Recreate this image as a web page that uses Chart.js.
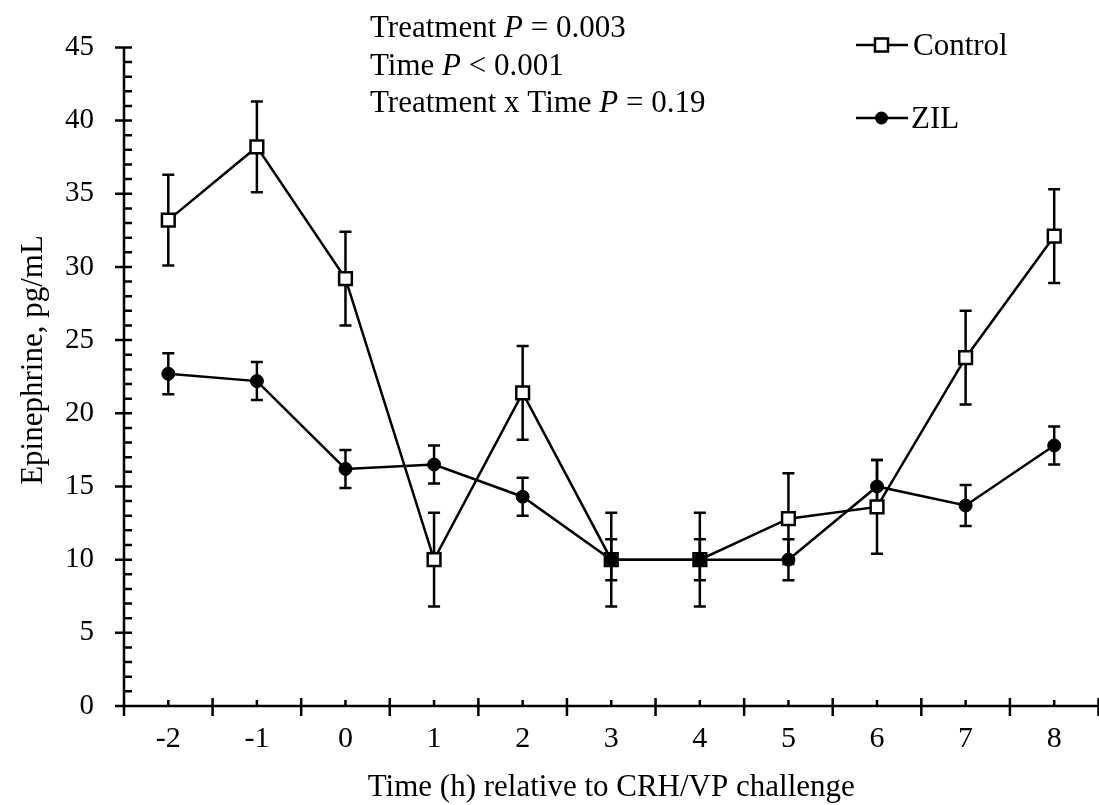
<!DOCTYPE html>
<html>
<head>
<meta charset="utf-8">
<script src="https://cdn.jsdelivr.net/npm/chart.js@4.4.1/dist/chart.umd.min.js"></script>
<style>
  html, body { margin: 0; padding: 0; background: #fff; overflow: hidden; }
  #wrap { width: 1110px; height: 805px; }
</style>
</head>
<body>
<div id="wrap"><canvas id="chart" width="1110" height="805"></canvas></div>
<script>
// values (pg/mL, mean and SEM)
const times = ['-2', '-1', '0', '1', '2', '3', '4', '5', '6', '7', '8'];
const controlMean = [33.2, 38.2, 29.2, 10.0, 21.4, 10.0, 10.0, 12.8, 13.6, 23.8, 32.1];
const controlSem = [3.1, 3.1, 3.2, 3.2, 3.2, 3.2, 3.2, 3.1, 3.2, 3.2, 3.2];
const zilMean = [22.7, 22.2, 16.2, 16.5, 14.3, 10.0, 10.0, 10.0, 15.0, 13.7, 17.8];
const zilSem = [1.4, 1.3, 1.3, 1.3, 1.3, 1.4, 1.4, 1.4, 1.8, 1.4, 1.3];
const yMin = 0, yMax = 45, yStep = 5, yMinorStep = 1;
const statLines = [
  ['Treatment ', 'P', ' = 0.003'],
  ['Time ', 'P', ' < 0.001'],
  ['Treatment x Time ', 'P', ' = 0.19']
];
const xTitle = 'Time (h) relative to CRH/VP challenge';
const yTitle = 'Epinephrine, pg/mL';

const FONT = "'Liberation Serif', 'Times New Roman', serif";

const decorations = {
  id: 'decorations',
  beforeDatasetsDraw(chart) {
    // error bars go behind the markers
    const ctx = chart.ctx;
    const x = chart.scales.x, y = chart.scales.y;
    const sets = [[controlMean, controlSem], [zilMean, zilSem]];
    ctx.save();
    ctx.strokeStyle = '#000';
    ctx.lineWidth = 2.5;
    sets.forEach(([m, s]) => {
      m.forEach((v, i) => {
        const px = x.getPixelForValue(i);
        const top = y.getPixelForValue(v + s[i]);
        const bot = y.getPixelForValue(v - s[i]);
        ctx.beginPath();
        ctx.moveTo(px, top); ctx.lineTo(px, bot);
        ctx.moveTo(px - 6, top); ctx.lineTo(px + 6, top);
        ctx.moveTo(px - 6, bot); ctx.lineTo(px + 6, bot);
        ctx.stroke();
      });
    });
    ctx.restore();
  },
  afterDraw(chart) {
    const ctx = chart.ctx;
    const area = chart.chartArea;
    const x = chart.scales.x, y = chart.scales.y;
    ctx.save();
    ctx.strokeStyle = '#000';
    ctx.fillStyle = '#000';
    ctx.lineWidth = 2.5;

    // axes
    ctx.beginPath();
    ctx.moveTo(area.left, area.top); ctx.lineTo(area.left, area.bottom);
    ctx.moveTo(area.left, area.bottom); ctx.lineTo(area.right, area.bottom);
    // y ticks
    for (let v = yMin; v <= yMax; v += yMinorStep) {
      const py = y.getPixelForValue(v);
      if (v % yStep === 0) {
        ctx.moveTo(area.left - 9, py); ctx.lineTo(area.left + 8, py);
      } else {
        ctx.moveTo(area.left, py); ctx.lineTo(area.left + 8, py);
      }
    }
    // x ticks: major at category borders, minor at centres
    for (let i = 0; i <= times.length; i++) {
      const px = x.getPixelForValue(i - 0.5);
      ctx.moveTo(px, area.bottom - 8); ctx.lineTo(px, area.bottom + 10);
    }
    for (let i = 0; i < times.length; i++) {
      const px = x.getPixelForValue(i);
      ctx.moveTo(px, area.bottom); ctx.lineTo(px, area.bottom - 6);
    }
    ctx.stroke();

    // axis titles
    ctx.font = '31px ' + FONT;
    ctx.textAlign = 'center';
    ctx.textBaseline = 'alphabetic';
    ctx.fillText(xTitle, (area.left + area.right) / 2, 796);
    ctx.save();
    ctx.translate(42, 360);
    ctx.rotate(-Math.PI / 2);
    ctx.fillText(yTitle, 0, 0);
    ctx.restore();

    // statistics text
    ctx.textAlign = 'left';
    statLines.forEach((parts, row) => {
      let cx = 370;
      const by = 37 + row * 37.5;
      parts.forEach((txt, k) => {
        ctx.font = (k === 1 ? 'italic ' : '') + '31px ' + FONT;
        ctx.fillText(txt, cx, by);
        cx += ctx.measureText(txt).width;
      });
    });

    // legend
    const items = [
      { label: 'Control', y: 45, style: 'rect' },
      { label: 'ZIL', y: 118, style: 'circle' }
    ];
    ctx.font = '31px ' + FONT;
    ctx.textBaseline = 'middle';
    items.forEach(it => {
      ctx.lineWidth = 2.5;
      ctx.beginPath();
      ctx.moveTo(856, it.y); ctx.lineTo(908, it.y);
      ctx.stroke();
      if (it.style === 'rect') {
        ctx.fillStyle = '#fff';
        ctx.fillRect(875, it.y - 6.5, 13, 13);
        ctx.strokeRect(875, it.y - 6.5, 13, 13);
        ctx.fillStyle = '#000';
      } else {
        ctx.beginPath();
        ctx.arc(881.5, it.y, 6.5, 0, Math.PI * 2);
        ctx.fill();
      }
      ctx.fillText(it.label, it.style === 'rect' ? 913 : 911, it.y + 2);
    });
    ctx.restore();
  }
};

new Chart(document.getElementById('chart'), {
  type: 'line',
  data: {
    labels: times,
    datasets: [
      {
        label: 'Control',
        data: controlMean,
        order: 2,
        borderColor: '#000',
        borderWidth: 2.5,
        pointStyle: 'rect',
        pointRadius: 9,
        pointBorderWidth: 2.5,
        pointBackgroundColor: '#fff',
        pointBorderColor: '#000',
        tension: 0
      },
      {
        label: 'ZIL',
        data: zilMean,
        order: 1,
        borderColor: '#000',
        borderWidth: 2.5,
        pointStyle: 'circle',
        pointRadius: 6.5,
        pointBorderWidth: 1,
        pointBackgroundColor: '#000',
        pointBorderColor: '#000',
        tension: 0
      }
    ]
  },
  options: {
    responsive: false,
    animation: false,
    layout: { padding: { left: 0, top: 36, right: 4, bottom: 0 } },
    plugins: { legend: { display: false }, tooltip: { enabled: false } },
    scales: {
      x: {
        type: 'category',
        offset: true,
        grid: { display: false, drawTicks: false },
        border: { display: false },
        ticks: { color: '#000', font: { family: FONT, size: 30 }, padding: 15, maxRotation: 0 },
        afterFit(scale) { scale.height = 99; }
      },
      y: {
        min: yMin,
        max: yMax,
        grid: { display: false, drawTicks: false },
        border: { display: false },
        ticks: { stepSize: yStep, color: '#000', font: { family: FONT, size: 29 }, padding: 30 },
        afterFit(scale) { scale.width = 124; }
      }
    }
  },
  plugins: [decorations]
});
</script>
</body>
</html>
